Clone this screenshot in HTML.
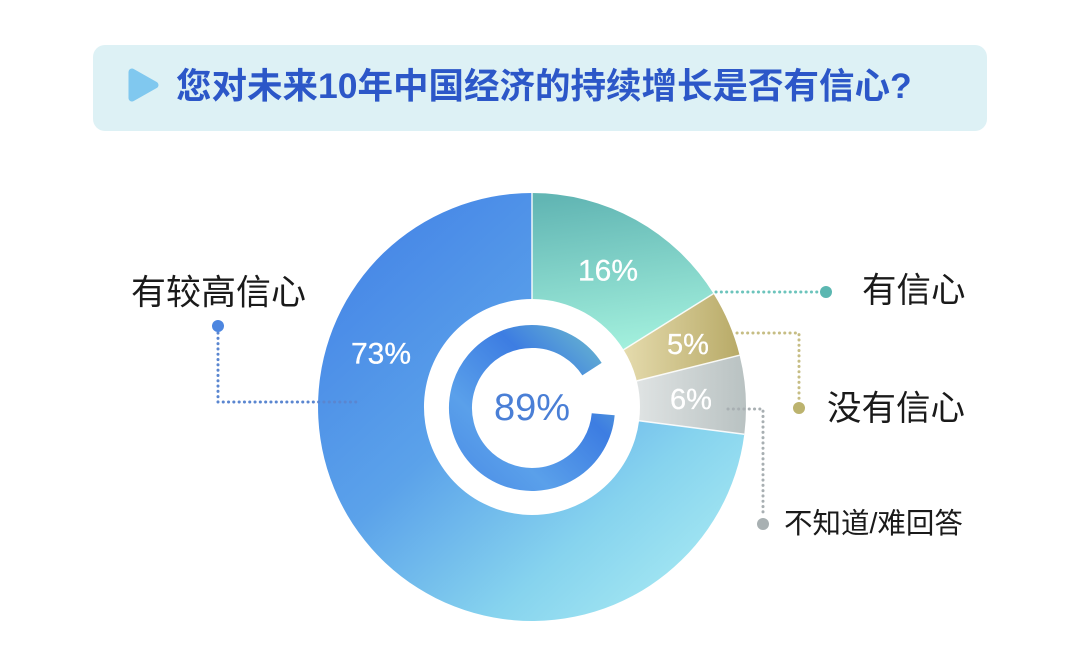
<!DOCTYPE html>
<html>
<head>
<meta charset="utf-8">
<style>
  html, body { margin:0; padding:0; background:#ffffff; }
  body { width:1080px; height:658px; overflow:hidden; }
  svg { display:block; }
  .cjk { font-family: "Liberation Sans", "Noto Sans CJK SC", sans-serif; }
</style>
</head>
<body>
<svg width="1080" height="658" viewBox="0 0 1080 658" xmlns="http://www.w3.org/2000/svg">
  <defs>
    <linearGradient id="gBlue" gradientUnits="userSpaceOnUse" x1="340" y1="210" x2="700" y2="610">
      <stop offset="0" stop-color="#4382e6"/>
      <stop offset="0.45" stop-color="#5ba2ea"/>
      <stop offset="0.75" stop-color="#86d3ee"/>
      <stop offset="1" stop-color="#aaebf3"/>
    </linearGradient>
    <linearGradient id="gTeal" gradientUnits="userSpaceOnUse" x1="600" y1="193" x2="620" y2="350">
      <stop offset="0" stop-color="#62b6b4"/>
      <stop offset="1" stop-color="#a3f0dd"/>
    </linearGradient>
    <linearGradient id="gGold" gradientUnits="userSpaceOnUse" x1="625" y1="0" x2="740" y2="0">
      <stop offset="0" stop-color="#e4daac"/>
      <stop offset="1" stop-color="#b8aa67"/>
    </linearGradient>
    <linearGradient id="gGray" gradientUnits="userSpaceOnUse" x1="637" y1="0" x2="745" y2="0">
      <stop offset="0" stop-color="#dfe3e3"/>
      <stop offset="1" stop-color="#b9c2c2"/>
    </linearGradient>
    <linearGradient id="gRing" gradientUnits="userSpaceOnUse" x1="610" y1="330" x2="455" y2="490">
      <stop offset="0" stop-color="#70bfcc"/>
      <stop offset="0.35" stop-color="#3d7de2"/>
      <stop offset="0.7" stop-color="#5aa0ea"/>
      <stop offset="1" stop-color="#4a8be6"/>
    </linearGradient>
  </defs>

  <!-- Title box -->
  <rect x="93" y="45" width="894" height="86" rx="12" ry="12" fill="#ddf1f5"/>
  <polygon points="132,72 155,85 132,98" fill="#80c8ef" stroke="#80c8ef" stroke-width="7" stroke-linejoin="round"/>
  <text x="176" y="86" class="cjk" font-size="35.5" font-weight="bold" fill="#2c57c8" dominant-baseline="central">您对未来10年中国经济的持续增长是否有信心?</text>

  <!-- Donut segments -->
  <path d="M744.3,434.2 A214,214 0 1 1 532,193 L532,299 A108,108 0 1 0 639.1,420.7 Z" fill="url(#gBlue)"/>
  <path d="M532,193 A214,214 0 0 1 713.5,293.6 L623.6,349.8 A108,108 0 0 0 532,299 Z" fill="url(#gTeal)"/>
  <path d="M713.5,293.6 A214,214 0 0 1 739.6,355.2 L636.8,380.9 A108,108 0 0 0 623.6,349.8 Z" fill="url(#gGold)"/>
  <path d="M739.6,355.2 A214,214 0 0 1 744.3,434.2 L639.1,420.7 A108,108 0 0 0 636.8,380.9 Z" fill="url(#gGray)"/>
  <!-- separators -->
  <g stroke="#ffffff" stroke-width="1.5" opacity="0.9">
    <line x1="532" y1="193" x2="532" y2="299"/>
    <line x1="713.5" y1="293.6" x2="623.6" y2="349.8"/>
    <line x1="739.6" y1="355.2" x2="636.8" y2="380.9"/>
    <line x1="744.3" y1="434.2" x2="639.1" y2="420.7"/>
  </g>

  <!-- inner ring 89% -->
  <path d="M603.2,414.2 A71.5,71.5 0 1 1 592.0,369.1" fill="none" stroke="url(#gRing)" stroke-width="23"/>
  <text x="532" y="408" font-family="Liberation Sans, sans-serif" font-size="38" fill="#4a7fd6" text-anchor="middle" dominant-baseline="central">89%</text>

  <!-- segment labels -->
  <g font-family="Liberation Sans, sans-serif" fill="#ffffff" stroke="#ffffff" stroke-width="0.3" text-anchor="middle" dominant-baseline="central">
    <text x="608" y="271" font-size="30">16%</text>
    <text x="688" y="345" font-size="29">5%</text>
    <text x="691" y="400" font-size="29">6%</text>
    <text x="381" y="354" font-size="30">73%</text>
  </g>

  <!-- leader lines -->
  <g fill="none" stroke-width="3" stroke-linecap="round" stroke-dasharray="0.1 5.2">
    <path d="M218,333 L218,402 L356,402" stroke="#5a86d0"/>
    <path d="M716,292 L818,292" stroke="#6cc4bc"/>
    <path d="M737,333 L799,333 L799,401" stroke="#c6bd84"/>
    <path d="M728,409 L763,409 L763,517" stroke="#a8afb2"/>
  </g>
  <circle cx="218" cy="326" r="6" fill="#4d86e0"/>
  <circle cx="826" cy="292" r="6" fill="#5bb7b1"/>
  <circle cx="799" cy="408" r="6" fill="#bcb36e"/>
  <circle cx="763" cy="524" r="6" fill="#a8b0b2"/>

  <!-- category labels -->
  <g class="cjk" fill="#1a1a1a" dominant-baseline="central">
    <text x="131" y="293" font-size="35">有较高信心</text>
    <text x="862" y="291" font-size="34.5">有信心</text>
    <text x="827" y="409" font-size="34.5">没有信心</text>
    <text x="784" y="524" font-size="28.5">不知道/难回答</text>
  </g>
</svg>
</body>
</html>
